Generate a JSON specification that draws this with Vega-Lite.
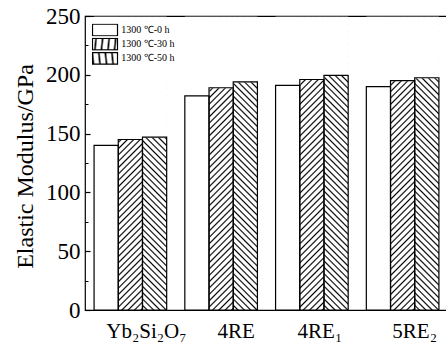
{
  "$schema": "https://vega.github.io/schema/vega-lite/v6.json",
  "width": 363,
  "height": 294,
  "autosize": "none",
  "padding": {"left": 85, "top": 16, "right": 0, "bottom": 32},
  "config": {
    "view": {"stroke": "#000", "strokeWidth": 1.2},
    "font": "Liberation Serif, Times New Roman, serif",
    "legend": {"labelFont": "Liberation Serif, Times New Roman, serif"},
    "axis": {"labelFont": "Liberation Serif, Times New Roman, serif", "titleFont": "Liberation Serif, Times New Roman, serif", "labelColor": "#000", "titleColor": "#000", "grid": false, "domain": false}
  },
  "params": [
    {"name": "hatchFwd", "value": {"gradient": "linear", "x1": 0, "y1": 0, "x2": 0.0889, "y2": 1.0752, "stops": [
      {"offset":0.01,"color":"#fff"},{"offset":0.015,"color":"#000"},{"offset":0.02,"color":"#fff"},
      {"offset":0.03,"color":"#fff"},{"offset":0.035,"color":"#000"},{"offset":0.04,"color":"#fff"},
      {"offset":0.05,"color":"#fff"},{"offset":0.055,"color":"#000"},{"offset":0.06,"color":"#fff"},
      {"offset":0.07,"color":"#fff"},{"offset":0.075,"color":"#000"},{"offset":0.08,"color":"#fff"},
      {"offset":0.09,"color":"#fff"},{"offset":0.095,"color":"#000"},{"offset":0.1,"color":"#fff"},
      {"offset":0.11,"color":"#fff"},{"offset":0.115,"color":"#000"},{"offset":0.12,"color":"#fff"},
      {"offset":0.13,"color":"#fff"},{"offset":0.135,"color":"#000"},{"offset":0.14,"color":"#fff"},
      {"offset":0.15,"color":"#fff"},{"offset":0.155,"color":"#000"},{"offset":0.16,"color":"#fff"},
      {"offset":0.17,"color":"#fff"},{"offset":0.175,"color":"#000"},{"offset":0.18,"color":"#fff"},
      {"offset":0.19,"color":"#fff"},{"offset":0.195,"color":"#000"},{"offset":0.2,"color":"#fff"},
      {"offset":0.21,"color":"#fff"},{"offset":0.215,"color":"#000"},{"offset":0.22,"color":"#fff"},
      {"offset":0.23,"color":"#fff"},{"offset":0.235,"color":"#000"},{"offset":0.24,"color":"#fff"},
      {"offset":0.25,"color":"#fff"},{"offset":0.255,"color":"#000"},{"offset":0.26,"color":"#fff"},
      {"offset":0.27,"color":"#fff"},{"offset":0.275,"color":"#000"},{"offset":0.28,"color":"#fff"},
      {"offset":0.29,"color":"#fff"},{"offset":0.295,"color":"#000"},{"offset":0.3,"color":"#fff"},
      {"offset":0.31,"color":"#fff"},{"offset":0.315,"color":"#000"},{"offset":0.32,"color":"#fff"},
      {"offset":0.33,"color":"#fff"},{"offset":0.335,"color":"#000"},{"offset":0.34,"color":"#fff"},
      {"offset":0.35,"color":"#fff"},{"offset":0.355,"color":"#000"},{"offset":0.36,"color":"#fff"},
      {"offset":0.37,"color":"#fff"},{"offset":0.375,"color":"#000"},{"offset":0.38,"color":"#fff"},
      {"offset":0.39,"color":"#fff"},{"offset":0.395,"color":"#000"},{"offset":0.4,"color":"#fff"},
      {"offset":0.41,"color":"#fff"},{"offset":0.415,"color":"#000"},{"offset":0.42,"color":"#fff"},
      {"offset":0.43,"color":"#fff"},{"offset":0.435,"color":"#000"},{"offset":0.44,"color":"#fff"},
      {"offset":0.45,"color":"#fff"},{"offset":0.455,"color":"#000"},{"offset":0.46,"color":"#fff"},
      {"offset":0.47,"color":"#fff"},{"offset":0.475,"color":"#000"},{"offset":0.48,"color":"#fff"},
      {"offset":0.49,"color":"#fff"},{"offset":0.495,"color":"#000"},{"offset":0.5,"color":"#fff"},
      {"offset":0.51,"color":"#fff"},{"offset":0.515,"color":"#000"},{"offset":0.52,"color":"#fff"},
      {"offset":0.53,"color":"#fff"},{"offset":0.535,"color":"#000"},{"offset":0.54,"color":"#fff"},
      {"offset":0.55,"color":"#fff"},{"offset":0.555,"color":"#000"},{"offset":0.56,"color":"#fff"},
      {"offset":0.57,"color":"#fff"},{"offset":0.575,"color":"#000"},{"offset":0.58,"color":"#fff"},
      {"offset":0.59,"color":"#fff"},{"offset":0.595,"color":"#000"},{"offset":0.6,"color":"#fff"},
      {"offset":0.61,"color":"#fff"},{"offset":0.615,"color":"#000"},{"offset":0.62,"color":"#fff"},
      {"offset":0.63,"color":"#fff"},{"offset":0.635,"color":"#000"},{"offset":0.64,"color":"#fff"},
      {"offset":0.65,"color":"#fff"},{"offset":0.655,"color":"#000"},{"offset":0.66,"color":"#fff"},
      {"offset":0.67,"color":"#fff"},{"offset":0.675,"color":"#000"},{"offset":0.68,"color":"#fff"},
      {"offset":0.69,"color":"#fff"},{"offset":0.695,"color":"#000"},{"offset":0.7,"color":"#fff"},
      {"offset":0.71,"color":"#fff"},{"offset":0.715,"color":"#000"},{"offset":0.72,"color":"#fff"},
      {"offset":0.73,"color":"#fff"},{"offset":0.735,"color":"#000"},{"offset":0.74,"color":"#fff"},
      {"offset":0.75,"color":"#fff"},{"offset":0.755,"color":"#000"},{"offset":0.76,"color":"#fff"},
      {"offset":0.77,"color":"#fff"},{"offset":0.775,"color":"#000"},{"offset":0.78,"color":"#fff"},
      {"offset":0.79,"color":"#fff"},{"offset":0.795,"color":"#000"},{"offset":0.8,"color":"#fff"},
      {"offset":0.81,"color":"#fff"},{"offset":0.815,"color":"#000"},{"offset":0.82,"color":"#fff"},
      {"offset":0.83,"color":"#fff"},{"offset":0.835,"color":"#000"},{"offset":0.84,"color":"#fff"},
      {"offset":0.85,"color":"#fff"},{"offset":0.855,"color":"#000"},{"offset":0.86,"color":"#fff"},
      {"offset":0.87,"color":"#fff"},{"offset":0.875,"color":"#000"},{"offset":0.88,"color":"#fff"},
      {"offset":0.89,"color":"#fff"},{"offset":0.895,"color":"#000"},{"offset":0.9,"color":"#fff"},
      {"offset":0.91,"color":"#fff"},{"offset":0.915,"color":"#000"},{"offset":0.92,"color":"#fff"},
      {"offset":0.93,"color":"#fff"},{"offset":0.935,"color":"#000"},{"offset":0.94,"color":"#fff"},
      {"offset":0.95,"color":"#fff"},{"offset":0.955,"color":"#000"},{"offset":0.96,"color":"#fff"},
      {"offset":0.97,"color":"#fff"},{"offset":0.975,"color":"#000"},{"offset":0.98,"color":"#fff"},
      {"offset":0.99,"color":"#fff"},{"offset":0.995,"color":"#000"},{"offset":1,"color":"#fff"}
    ]}},
    {"name": "hatchBack", "value": {"gradient": "linear", "x1": 0, "y1": 1, "x2": 0.0889, "y2": -0.0752, "stops": [
      {"offset":0.01,"color":"#fff"},{"offset":0.015,"color":"#000"},{"offset":0.02,"color":"#fff"},
      {"offset":0.03,"color":"#fff"},{"offset":0.035,"color":"#000"},{"offset":0.04,"color":"#fff"},
      {"offset":0.05,"color":"#fff"},{"offset":0.055,"color":"#000"},{"offset":0.06,"color":"#fff"},
      {"offset":0.07,"color":"#fff"},{"offset":0.075,"color":"#000"},{"offset":0.08,"color":"#fff"},
      {"offset":0.09,"color":"#fff"},{"offset":0.095,"color":"#000"},{"offset":0.1,"color":"#fff"},
      {"offset":0.11,"color":"#fff"},{"offset":0.115,"color":"#000"},{"offset":0.12,"color":"#fff"},
      {"offset":0.13,"color":"#fff"},{"offset":0.135,"color":"#000"},{"offset":0.14,"color":"#fff"},
      {"offset":0.15,"color":"#fff"},{"offset":0.155,"color":"#000"},{"offset":0.16,"color":"#fff"},
      {"offset":0.17,"color":"#fff"},{"offset":0.175,"color":"#000"},{"offset":0.18,"color":"#fff"},
      {"offset":0.19,"color":"#fff"},{"offset":0.195,"color":"#000"},{"offset":0.2,"color":"#fff"},
      {"offset":0.21,"color":"#fff"},{"offset":0.215,"color":"#000"},{"offset":0.22,"color":"#fff"},
      {"offset":0.23,"color":"#fff"},{"offset":0.235,"color":"#000"},{"offset":0.24,"color":"#fff"},
      {"offset":0.25,"color":"#fff"},{"offset":0.255,"color":"#000"},{"offset":0.26,"color":"#fff"},
      {"offset":0.27,"color":"#fff"},{"offset":0.275,"color":"#000"},{"offset":0.28,"color":"#fff"},
      {"offset":0.29,"color":"#fff"},{"offset":0.295,"color":"#000"},{"offset":0.3,"color":"#fff"},
      {"offset":0.31,"color":"#fff"},{"offset":0.315,"color":"#000"},{"offset":0.32,"color":"#fff"},
      {"offset":0.33,"color":"#fff"},{"offset":0.335,"color":"#000"},{"offset":0.34,"color":"#fff"},
      {"offset":0.35,"color":"#fff"},{"offset":0.355,"color":"#000"},{"offset":0.36,"color":"#fff"},
      {"offset":0.37,"color":"#fff"},{"offset":0.375,"color":"#000"},{"offset":0.38,"color":"#fff"},
      {"offset":0.39,"color":"#fff"},{"offset":0.395,"color":"#000"},{"offset":0.4,"color":"#fff"},
      {"offset":0.41,"color":"#fff"},{"offset":0.415,"color":"#000"},{"offset":0.42,"color":"#fff"},
      {"offset":0.43,"color":"#fff"},{"offset":0.435,"color":"#000"},{"offset":0.44,"color":"#fff"},
      {"offset":0.45,"color":"#fff"},{"offset":0.455,"color":"#000"},{"offset":0.46,"color":"#fff"},
      {"offset":0.47,"color":"#fff"},{"offset":0.475,"color":"#000"},{"offset":0.48,"color":"#fff"},
      {"offset":0.49,"color":"#fff"},{"offset":0.495,"color":"#000"},{"offset":0.5,"color":"#fff"},
      {"offset":0.51,"color":"#fff"},{"offset":0.515,"color":"#000"},{"offset":0.52,"color":"#fff"},
      {"offset":0.53,"color":"#fff"},{"offset":0.535,"color":"#000"},{"offset":0.54,"color":"#fff"},
      {"offset":0.55,"color":"#fff"},{"offset":0.555,"color":"#000"},{"offset":0.56,"color":"#fff"},
      {"offset":0.57,"color":"#fff"},{"offset":0.575,"color":"#000"},{"offset":0.58,"color":"#fff"},
      {"offset":0.59,"color":"#fff"},{"offset":0.595,"color":"#000"},{"offset":0.6,"color":"#fff"},
      {"offset":0.61,"color":"#fff"},{"offset":0.615,"color":"#000"},{"offset":0.62,"color":"#fff"},
      {"offset":0.63,"color":"#fff"},{"offset":0.635,"color":"#000"},{"offset":0.64,"color":"#fff"},
      {"offset":0.65,"color":"#fff"},{"offset":0.655,"color":"#000"},{"offset":0.66,"color":"#fff"},
      {"offset":0.67,"color":"#fff"},{"offset":0.675,"color":"#000"},{"offset":0.68,"color":"#fff"},
      {"offset":0.69,"color":"#fff"},{"offset":0.695,"color":"#000"},{"offset":0.7,"color":"#fff"},
      {"offset":0.71,"color":"#fff"},{"offset":0.715,"color":"#000"},{"offset":0.72,"color":"#fff"},
      {"offset":0.73,"color":"#fff"},{"offset":0.735,"color":"#000"},{"offset":0.74,"color":"#fff"},
      {"offset":0.75,"color":"#fff"},{"offset":0.755,"color":"#000"},{"offset":0.76,"color":"#fff"},
      {"offset":0.77,"color":"#fff"},{"offset":0.775,"color":"#000"},{"offset":0.78,"color":"#fff"},
      {"offset":0.79,"color":"#fff"},{"offset":0.795,"color":"#000"},{"offset":0.8,"color":"#fff"},
      {"offset":0.81,"color":"#fff"},{"offset":0.815,"color":"#000"},{"offset":0.82,"color":"#fff"},
      {"offset":0.83,"color":"#fff"},{"offset":0.835,"color":"#000"},{"offset":0.84,"color":"#fff"},
      {"offset":0.85,"color":"#fff"},{"offset":0.855,"color":"#000"},{"offset":0.86,"color":"#fff"},
      {"offset":0.87,"color":"#fff"},{"offset":0.875,"color":"#000"},{"offset":0.88,"color":"#fff"},
      {"offset":0.89,"color":"#fff"},{"offset":0.895,"color":"#000"},{"offset":0.9,"color":"#fff"},
      {"offset":0.91,"color":"#fff"},{"offset":0.915,"color":"#000"},{"offset":0.92,"color":"#fff"},
      {"offset":0.93,"color":"#fff"},{"offset":0.935,"color":"#000"},{"offset":0.94,"color":"#fff"},
      {"offset":0.95,"color":"#fff"},{"offset":0.955,"color":"#000"},{"offset":0.96,"color":"#fff"},
      {"offset":0.97,"color":"#fff"},{"offset":0.975,"color":"#000"},{"offset":0.98,"color":"#fff"},
      {"offset":0.99,"color":"#fff"},{"offset":0.995,"color":"#000"},{"offset":1,"color":"#fff"}
    ]}},
    {"name": "keyFwd", "value": {"gradient": "linear", "x1": 0, "y1": 0, "x2": 1.205, "y2": 0.554, "stops": [
      {"offset":0.0833,"color":"#fff"},{"offset":0.125,"color":"#000"},{"offset":0.1667,"color":"#fff"},
      {"offset":0.25,"color":"#fff"},{"offset":0.2917,"color":"#000"},{"offset":0.3333,"color":"#fff"},
      {"offset":0.4167,"color":"#fff"},{"offset":0.4583,"color":"#000"},{"offset":0.5,"color":"#fff"},
      {"offset":0.5833,"color":"#fff"},{"offset":0.625,"color":"#000"},{"offset":0.6667,"color":"#fff"},
      {"offset":0.75,"color":"#fff"},{"offset":0.7917,"color":"#000"},{"offset":0.8333,"color":"#fff"},
      {"offset":0.9167,"color":"#fff"},{"offset":0.9583,"color":"#000"},{"offset":1,"color":"#fff"}
    ]}},
    {"name": "keyBack", "value": {"gradient": "linear", "x1": 0, "y1": 1, "x2": 1.205, "y2": 0.446, "stops": [
      {"offset":0.0833,"color":"#fff"},{"offset":0.125,"color":"#000"},{"offset":0.1667,"color":"#fff"},
      {"offset":0.25,"color":"#fff"},{"offset":0.2917,"color":"#000"},{"offset":0.3333,"color":"#fff"},
      {"offset":0.4167,"color":"#fff"},{"offset":0.4583,"color":"#000"},{"offset":0.5,"color":"#fff"},
      {"offset":0.5833,"color":"#fff"},{"offset":0.625,"color":"#000"},{"offset":0.6667,"color":"#fff"},
      {"offset":0.75,"color":"#fff"},{"offset":0.7917,"color":"#000"},{"offset":0.8333,"color":"#fff"},
      {"offset":0.9167,"color":"#fff"},{"offset":0.9583,"color":"#000"},{"offset":1,"color":"#fff"}
    ]}}
  ],
  "data": {
    "values": [
      {"sample": "Yb₂Si₂O₇", "heat": "1300 ℃-0 h", "E": 140},
      {"sample": "Yb₂Si₂O₇", "heat": "1300 ℃-30 h", "E": 145},
      {"sample": "Yb₂Si₂O₇", "heat": "1300 ℃-50 h", "E": 147},
      {"sample": "4RE", "heat": "1300 ℃-0 h", "E": 182},
      {"sample": "4RE", "heat": "1300 ℃-30 h", "E": 189},
      {"sample": "4RE", "heat": "1300 ℃-50 h", "E": 194},
      {"sample": "4RE₁", "heat": "1300 ℃-0 h", "E": 191},
      {"sample": "4RE₁", "heat": "1300 ℃-30 h", "E": 196},
      {"sample": "4RE₁", "heat": "1300 ℃-50 h", "E": 199.5},
      {"sample": "5RE₂", "heat": "1300 ℃-0 h", "E": 190},
      {"sample": "5RE₂", "heat": "1300 ℃-30 h", "E": 195},
      {"sample": "5RE₂", "heat": "1300 ℃-50 h", "E": 197.5}
    ]
  },
  "encoding": {
    "x": {
      "field": "sample", "type": "nominal", "sort": null, "title": null,
      "scale": {"paddingInner": 0.2, "paddingOuter": 0.1},
      "axis": {
        "labelAngle": 0, "labelFontSize": 21, "labelFont": "Liberation Serif, Times New Roman, serif",
        "ticks": false, "tickSize": 0, "labelPadding": 10,
        "labelOffset": {"condition": [
          {"test": "datum.value === 'Yb₂Si₂O₇'", "value": 16},
          {"test": "datum.value === '4RE'", "value": 15},
          {"test": "datum.value === '4RE₁'", "value": 8}
        ], "value": 12}
      }
    },
    "xOffset": {"field": "heat", "type": "nominal", "sort": null, "scale": {"paddingInner": 0, "paddingOuter": 0}}
  },
  "layer": [
    {
      "mark": {"type": "bar", "strokeWidth": 0},
      "encoding": {
        "y": {"datum": 249, "type": "quantitative", "scale": {"domain": [0, 250], "nice": false}, "axis": null},
        "y2": {"datum": 0},
        "fill": {
          "field": "heat", "type": "nominal", "sort": null,
          "scale": {
            "domain": ["1300 ℃-0 h", "1300 ℃-30 h", "1300 ℃-50 h"],
            "range": ["#fff", {"expr": "hatchFwd"}, {"expr": "hatchBack"}]
          },
          "legend": {
            "title": null,
            "orient": "none",
            "legendX": 6.8,
            "legendY": 7.5,
            "symbolType": "M-2,-0.92H2V0.92H-2Z",
            "symbolSize": 156.25,
            "symbolOffset": 6.2,
            "symbolStrokeColor": "#000",
            "symbolStrokeWidth": 1.2,
            "labelFont": "Liberation Serif, Times New Roman, serif",
            "labelFontSize": 10,
            "labelColor": "#000",
            "labelOffset": 9.2,
            "clipHeight": 13,
            "rowPadding": 1.2,
            "encode": {"symbols": {"update": {
              "stroke": {"value": "#000"},
              "strokeWidth": {"value": 1.2},
              "opacity": {"value": 1},
              "fillOpacity": {"value": 1},
              "fill": [
                {"test": "datum.value === '1300 ℃-30 h'", "signal": "keyFwd"},
                {"test": "datum.value === '1300 ℃-50 h'", "signal": "keyBack"},
                {"value": "#fff"}
              ]
            }}}
          }
        }
      }
    },
    {
      "mark": {"type": "bar", "fill": "#fff", "stroke": "#fff", "strokeWidth": 1},
      "encoding": {
        "y": {
          "field": "E", "type": "quantitative", "scale": {"domain": [0, 250], "nice": false},
          "axis": {"orient": "left", "values": [25, 75, 125, 175, 225], "labels": false, "ticks": true, "tickSize": -3, "tickColor": "#000", "tickWidth": 1, "title": null, "zindex": 1}
        },
        "y2": {"datum": 249}
      }
    },
    {
      "mark": {"type": "bar", "filled": false, "stroke": "#000", "strokeWidth": 1.2},
      "encoding": {
        "y": {
          "field": "E", "type": "quantitative", "scale": {"domain": [0, 250], "nice": false},
          "axis": {
            "orient": "left", "values": [0, 50, 100, 150, 200, 250], "tickSize": -5, "tickColor": "#000", "tickWidth": 1.2,
            "labelFont": "Liberation Serif, Times New Roman, serif", "labelFontSize": 23, "labelPadding": 10, "zindex": 1,
            "title": "Elastic Modulus/GPa", "titleFont": "Liberation Serif, Times New Roman, serif", "titleFontSize": 24, "titleFontWeight": "normal",
            "titleX": -53, "titleY": 150, "titleAngle": 270, "titleAlign": "center", "titleBaseline": "alphabetic"
          }
        }
      }
    }
  ],
  "resolve": {"axis": {"y": "independent"}}
}
